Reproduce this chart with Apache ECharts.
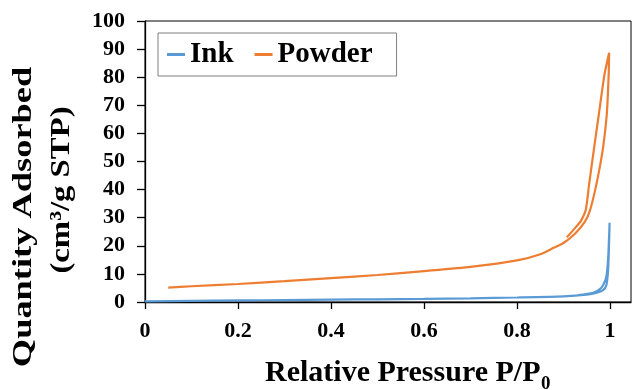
<!DOCTYPE html>
<html>
<head>
<meta charset="utf-8">
<script src="https://cdn.jsdelivr.net/npm/echarts@6/dist/echarts.min.js"></script>
<style>
  html, body { margin: 0; padding: 0; background: #fff; }
  #chart { width: 632px; height: 390px; }
</style>
</head>
<body>
<div id="chart"></div>
<script>
// isotherm data: [P/P0, quantity adsorbed]
var inkAds = [[0, 0.2], [0.1, 0.4], [0.2, 0.55], [0.3, 0.7], [0.4, 0.85], [0.5, 0.95], [0.6, 1.1],
  [0.7, 1.3], [0.8, 1.6], [0.9, 2.0], [0.95, 2.6], [0.97, 3.2], [0.985, 4.2], [0.992, 6],
  [0.996, 12], [0.999, 28.2]];
var inkDes = [[0.996, 16], [0.992, 9], [0.985, 6], [0.978, 4.6], [0.965, 3.4], [0.945, 2.7], [0.93, 2.4]];

var powderAds = [[0.05, 5.1], [0.1, 5.6], [0.2, 6.4], [0.3, 7.4], [0.4, 8.5], [0.5, 9.6], [0.6, 11.0],
  [0.7, 12.5], [0.8, 14.8], [0.85, 17.0], [0.88, 19.4], [0.9, 21.0], [0.925, 24.4], [0.946, 28.6],
  [0.957, 32.7], [0.968, 39.9], [0.978, 48.1], [0.985, 55], [0.993, 67], [0.997, 81], [0.998, 88.7]];
var powderDes = [[0.988, 81], [0.976, 67], [0.962, 50.5], [0.955, 42], [0.948, 33],
  [0.937, 28.8], [0.924, 26.2], [0.907, 23.0]];

var seriesNames = ['Ink', 'Powder'];
var seriesColors = ['#5B9BD5', '#ED7D31'];

var font = '"Liberation Serif", "Times New Roman", serif';

var myChart = echarts.init(document.getElementById('chart'));

var option = {
  backgroundColor: '#fff',
  animation: false,
  grid: {
    left: 145, right: 1, top: 21, bottom: 88,
    show: true, borderColor: '#000', borderWidth: 1
  },
  legend: {
    data: seriesNames,
    left: 158, top: 33,
    padding: [7, 24, 7, 9],
    borderColor: '#7f7f7f', borderWidth: 1,
    backgroundColor: '#fff',
    icon: 'rect',
    itemWidth: 18, itemHeight: 3,
    itemGap: 21,
    textStyle: { fontFamily: font, fontWeight: 'bold', fontSize: 29, color: '#000' }
  },
  xAxis: {
    type: 'value',
    min: 0, max: 1.045, interval: 0.2,
    axisLine: { lineStyle: { color: '#000', width: 1.3 } },
    axisTick: { length: 7, lineStyle: { color: '#000', width: 1.3 } },
    axisLabel: { margin: 18, showMaxLabel: false, fontFamily: font, fontWeight: 'bold', fontSize: 22, color: '#000' },
    splitLine: { show: false }
  },
  yAxis: {
    type: 'value',
    min: 0, max: 100, interval: 10,
    axisLine: { show: true, lineStyle: { color: '#000', width: 1.3 } },
    axisTick: { show: true, length: 8, lineStyle: { color: '#000', width: 1.3 } },
    axisLabel: { margin: 20, fontFamily: font, fontWeight: 'bold', fontSize: 22, color: '#000' },
    splitLine: { show: false }
  },
  graphic: [
    {
      type: 'text', x: 24, y: 217, rotation: Math.PI / 2, scaleX: 1.3,
      style: { text: 'Quantity Adsorbed', font: 'bold 28px ' + font, fill: '#000', align: 'center', verticalAlign: 'middle' }
    },
    {
      type: 'text', x: 62, y: 190, rotation: Math.PI / 2, scaleX: 1.17,
      style: { text: '(cm³/g STP)', font: 'bold 28px ' + font, fill: '#000', align: 'center', verticalAlign: 'middle' }
    },
    {
      type: 'text', x: 265, y: 373,
      style: { text: 'Relative Pressure P/P', font: 'bold 30px ' + font, fill: '#000', align: 'left', verticalAlign: 'middle' }
    },
    {
      type: 'text', x: 541, y: 384,
      style: { text: '0', font: 'bold 19px ' + font, fill: '#000', align: 'left', verticalAlign: 'middle' }
    }
  ],
  series: [
    {
      name: seriesNames[0], type: 'line', showSymbol: false, smooth: 0.2,
      color: seriesColors[0], lineStyle: { width: 2.2, color: seriesColors[0] },
      data: inkAds.concat(inkDes)
    },
    {
      name: seriesNames[1], type: 'line', showSymbol: false, smooth: 0.2,
      color: seriesColors[1], lineStyle: { width: 2.2, color: seriesColors[1] },
      data: powderAds.concat(powderDes)
    }
  ]
};

myChart.setOption(option);
</script>
</body>
</html>
